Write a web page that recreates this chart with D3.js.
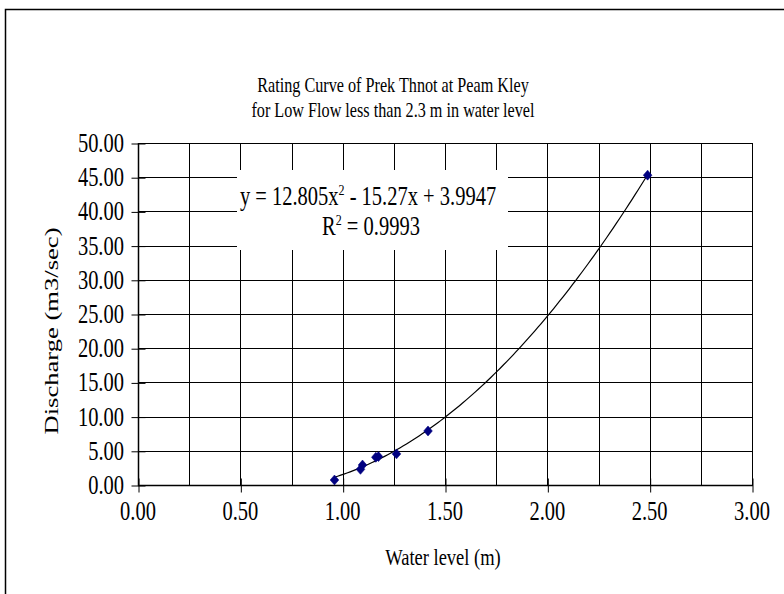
<!DOCTYPE html>
<html>
<head>
<meta charset="utf-8">
<script src="https://cdn.jsdelivr.net/npm/d3@7"></script>
<style>
  html, body { margin: 0; padding: 0; background: #fff; }
  svg { display: block; font-family: "Liberation Serif", "Times New Roman", serif; }
</style>
</head>
<body>
<svg id="chart" width="784" height="594"></svg>
<script>
// ---- data ----
const titleLines = ["Rating Curve of Prek Thnot at Peam Kley", "for Low Flow less than 2.3 m in water level"];
const xLabel = "Water level (m)";
const yLabel = "Discharge (m3/sec)";
const waterLevel = [0.96, 1.087, 1.097, 1.162, 1.175, 1.263, 1.417, 2.49];
const discharge  = [0.73, 2.29, 2.92, 4.05, 4.15, 4.55, 7.90, 45.30];
const trendCoef = [12.805, -15.27, 3.9947]; // a x^2 + b x + c
const xTicks = [0, 0.5, 1, 1.5, 2, 2.5, 3];
const xGrid = [0, 0.25, 0.5, 0.75, 1, 1.25, 1.5, 1.75, 2, 2.25, 2.5, 2.75, 3];
const yTicks = [0, 5, 10, 15, 20, 25, 30, 35, 40, 45, 50];

// ---- layout ----
const svg = d3.select("#chart");
const VS = 1.3; // vertical stretch of the text glyphs
const plot = { left: 138, right: 752, top: 143, bottom: 485 };
const x = d3.scaleLinear().domain([0, 3]).range([plot.left, plot.right]);
const y = d3.scaleLinear().domain([0, 50]).range([plot.bottom, plot.top]);
const fmt = d3.format(".2f");

// outer chart border
svg.append("rect").attr("x", 5.5).attr("y", 9.5).attr("width", 800).attr("height", 600)
  .attr("fill", "#fff").attr("stroke", "#000").attr("stroke-width", 1.5);

// gridlines
const g = svg.append("g");
g.selectAll("line.vg").data(xGrid).join("line")
  .attr("x1", d => Math.round(x(d)) + 0.5).attr("x2", d => Math.round(x(d)) + 0.5)
  .attr("y1", plot.top).attr("y2", plot.bottom)
  .attr("stroke", "#000").attr("stroke-width", 1);
g.selectAll("line.hg").data(yTicks).join("line")
  .attr("y1", d => Math.round(y(d)) + 0.5).attr("y2", d => Math.round(y(d)) + 0.5)
  .attr("x1", plot.left).attr("x2", plot.right)
  .attr("stroke", "#000").attr("stroke-width", 1);

// axes (tick marks only, labels drawn below)
const yAx = svg.append("g").attr("transform", `translate(${plot.left + 0.5},0.5)`)
  .call(d3.axisLeft(y).tickValues(yTicks).tickFormat("").tickSize(7));
yAx.select(".domain").remove();
yAx.selectAll(".tick line").attr("x2", 7).attr("x1", -7).attr("stroke", "#000");

const xAx = svg.append("g").attr("transform", `translate(0.5,${plot.bottom + 0.5})`)
  .call(d3.axisBottom(x).tickValues(xTicks).tickFormat("").tickSize(7));
xAx.select(".domain").remove();
xAx.selectAll(".tick line").attr("y1", -7).attr("y2", 7).attr("stroke", "#000");

// tick labels
svg.append("g").selectAll("text").data(yTicks).join("text")
  .attr("transform", d => `translate(124,${y(d) + 9}) scale(1,${VS})`)
  .attr("text-anchor", "end").attr("font-size", 20.5).attr("fill", "#000").text(d => fmt(d));
svg.append("g").selectAll("text").data(xTicks).join("text")
  .attr("transform", d => `translate(${x(d)},520) scale(1,${VS})`)
  .attr("text-anchor", "middle").attr("font-size", 20.5).attr("fill", "#000").text(d => fmt(d));

// axis lines
svg.append("line").attr("x1", plot.left + 0.5).attr("x2", plot.left + 0.5)
  .attr("y1", plot.top).attr("y2", plot.bottom + 1).attr("stroke", "#000").attr("stroke-width", 1.5);
svg.append("line").attr("x1", plot.left).attr("x2", plot.right + 1)
  .attr("y1", plot.bottom + 0.5).attr("y2", plot.bottom + 0.5).attr("stroke", "#000").attr("stroke-width", 1.5);

// equation label box (covers gridlines)
svg.append("rect").attr("x", 237).attr("y", 170).attr("width", 271).attr("height", 80).attr("fill", "#fff");
const eq = svg.append("text").attr("transform", `translate(368,205) scale(1,${VS})`).attr("text-anchor", "middle")
  .attr("font-size", 20.5).attr("fill", "#000");
eq.append("tspan").text(`y = ${trendCoef[0]}x`);
eq.append("tspan").attr("font-size", 12).attr("dy", -8).text("2");
eq.append("tspan").attr("dy", 8).text(` - ${Math.abs(trendCoef[1])}x + ${trendCoef[2]}`);
const r2 = svg.append("text").attr("transform", `translate(371,235) scale(1,${VS})`).attr("text-anchor", "middle")
  .attr("font-size", 20.5).attr("fill", "#000");
r2.append("tspan").text("R");
r2.append("tspan").attr("font-size", 12).attr("dy", -8).text("2");
r2.append("tspan").attr("dy", 8).text(" = 0.9993");

// trendline
const xMin = d3.min(waterLevel), xMax = d3.max(waterLevel);
const curve = d3.range(0, 101).map(i => {
  const xv = xMin + (xMax - xMin) * i / 100;
  return [xv, trendCoef[0] * xv * xv + trendCoef[1] * xv + trendCoef[2]];
});
svg.append("path").datum(curve)
  .attr("d", d3.line().x(d => x(d[0])).y(d => y(d[1])))
  .attr("fill", "none").attr("stroke", "#000").attr("stroke-width", 1.2);

// markers
const pts = waterLevel.map((w, i) => [w, discharge[i]]);
svg.append("g").selectAll("path").data(pts).join("path")
  .attr("transform", d => `translate(${x(d[0])},${y(d[1])}) scale(1,1.15)`)
  .attr("d", d3.symbol().type(d3.symbolDiamond2).size(48))
  .attr("fill", "#000080").attr("stroke", "#000080").attr("stroke-width", 0.5);

// titles
svg.append("g").selectAll("text").data(titleLines).join("text")
  .attr("transform", (d, i) => `translate(393,${92 + i * 25}) scale(1,${VS})`)
  .attr("text-anchor", "middle").attr("font-size", 16.2).attr("fill", "#000").text(d => d);
svg.append("text").attr("transform", `translate(443,565) scale(1,${VS})`).attr("text-anchor", "middle")
  .attr("font-size", 18.5).attr("fill", "#000").text(xLabel);
svg.append("text").attr("transform", `translate(58,331) rotate(-90) scale(1.4,1)`).attr("text-anchor", "middle")
  .attr("font-size", 19).attr("font-weight", "normal").attr("fill", "#000").text(yLabel);
</script>
</body>
</html>
